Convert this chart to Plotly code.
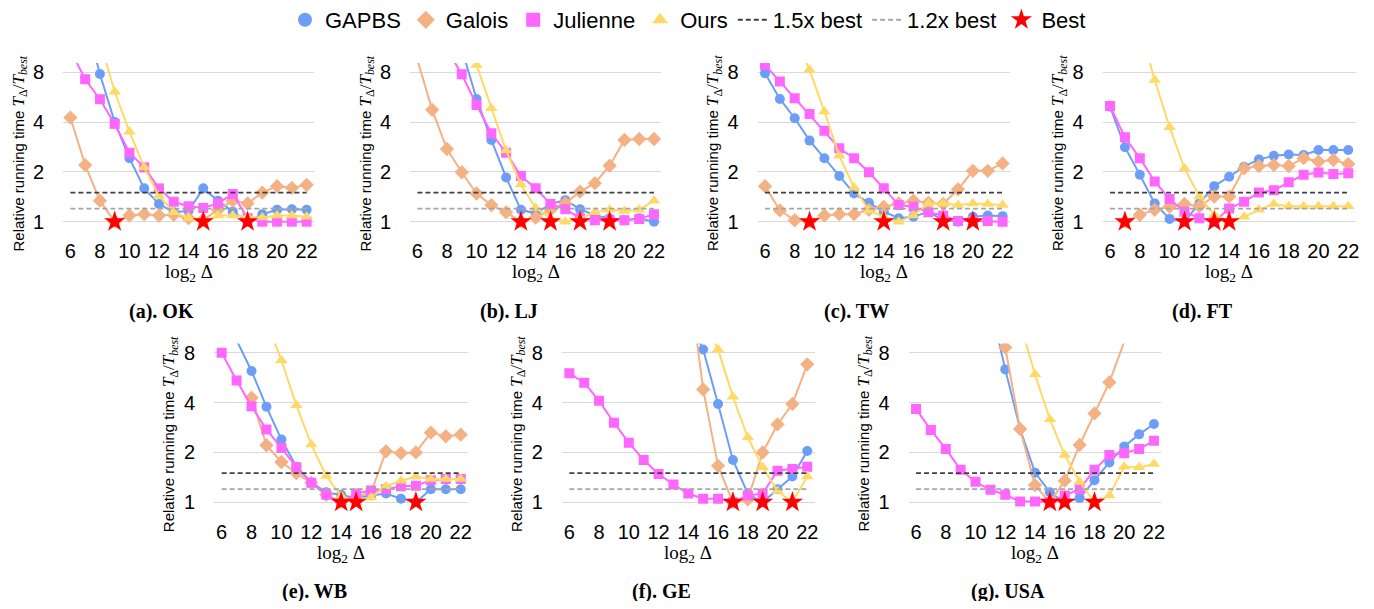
import math
import plotly.graph_objects as go

# ---------------- data ----------------
delta = list(range(6, 23))                      # log2(Delta)
x_tick_vals = [6, 8, 10, 12, 14, 16, 18, 20, 22]
y_tick_vals = [1, 2, 4, 8]
y_tick_text = ["1", "2", "4", "8"]

panel_names = ["(a). OK", "(b). LJ", "(c). TW", "(d). FT", "(e). WB", "(f). GE", "(g). USA"]
series_names = ["GAPBS", "Galois", "Julienne", "Ours"]

# (a) OK
gapbs_ok    = [None, 17, 7.8, 4.0, 2.42, 1.59, 1.28, 1.14, 1.16, 1.59, 1.34, 1.15, 1.0, 1.11, 1.18, 1.19, 1.18]
galois_ok   = [4.26, 2.2, 1.34, 1.0, 1.09, 1.11, 1.09, 1.1, 1.05, 1.03, 1.18, 1.34, 1.29, 1.5, 1.64, 1.6, 1.67]
julienne_ok = [10.9, 7.26, 5.5, 3.9, 2.61, 2.13, 1.59, 1.32, 1.24, 1.21, 1.29, 1.47, 1.05, 1.0, 1.0, 1.0, 1.0]
ours_ok     = [None, None, 12.3, 6.1, 3.5, 2.13, 1.43, 1.14, 1.05, 1.0, 1.09, 1.09, 1.07, 1.06, 1.09, 1.09, 1.07]
best_ok     = [9, 15, 18]

# (b) LJ
gapbs_lj    = [None, None, None, 11.1, 5.52, 3.12, 1.85, 1.18, 1.12, 1.28, 1.35, 1.19, 1.09, 1.05, 1.02, 1.05, 1.0]
galois_lj   = [9.5, 4.74, 2.75, 1.99, 1.48, 1.26, 1.14, 1.0, 1.06, 1.18, 1.29, 1.52, 1.71, 2.18, 3.12, 3.16, 3.16]
julienne_lj = [None, None, 11.0, 7.78, 5.08, 3.42, 2.61, 1.89, 1.59, 1.28, 1.19, 1.05, 1.02, 1.02, 1.02, 1.04, 1.11]
ours_lj     = [None, None, None, None, 8.86, 4.85, 2.69, 1.68, 1.21, 1.05, 1.0, 1.05, 1.14, 1.18, 1.16, 1.18, 1.34]
best_lj     = [13, 15, 17, 19]

# (c) TW
gapbs_tw    = [7.9, 5.52, 4.22, 3.09, 2.42, 1.89, 1.48, 1.30, 1.15, 1.05, 1.07, 1.15, 1.02, 1.0, 1.07, 1.09, 1.08]
galois_tw   = [1.64, 1.17, 1.02, 1.0, 1.09, 1.11, 1.11, 1.18, 1.23, 1.29, 1.34, 1.30, 1.28, 1.57, 2.03, 2.03, 2.25]
julienne_tw = [8.86, 7.03, 5.57, 4.48, 3.55, 2.78, 2.42, 1.99, 1.59, 1.26, 1.23, 1.14, 1.09, 1.01, 1.01, 1.01, 1.0]
ours_tw     = [None, None, 13.3, 8.27, 4.63, 2.5, 1.61, 1.17, 1.07, 1.0, 1.09, 1.29, 1.29, 1.26, 1.29, 1.28, 1.26]
best_tw     = [9, 14, 18, 20]

# (d) FT
gapbs_ft    = [4.96, 2.82, 1.92, 1.29, 1.04, 1.0, 1.29, 1.64, 1.87, 2.15, 2.38, 2.5, 2.55, 2.53, 2.71, 2.71, 2.71]
galois_ft   = [None, 1.0, 1.10, 1.18, 1.23, 1.28, 1.24, 1.42, 1.42, 2.1, 2.17, 2.2, 2.17, 2.42, 2.31, 2.36, 2.23]
julienne_ft = [5.0, 3.24, 2.42, 1.75, 1.37, 1.15, 1.05, 1.0, 1.20, 1.32, 1.5, 1.55, 1.73, 1.92, 1.98, 1.94, 1.96]
ours_ft     = [None, None, 15.0, 7.19, 3.72, 2.1, 1.42, 1.1, 1.0, 1.07, 1.18, 1.28, 1.24, 1.24, 1.24, 1.24, 1.24]
best_ft     = [7, 11, 13, 14]

# (e) WB
gapbs_wb    = [None, 9.5, 6.2, 3.77, 2.39, 1.64, 1.32, 1.15, 1.11, 1.06, 1.10, 1.13, 1.05, 1.0, 1.2, 1.2, 1.2]
galois_wb   = [None, None, 4.28, 2.21, 1.75, 1.5, 1.31, 1.11, 1.0, 1.07, 1.15, 2.03, 1.98, 2.0, 2.63, 2.5, 2.56]
julienne_wb = [8.0, 5.44, 3.8, 2.75, 2.13, 1.63, 1.31, 1.11, 1.0, 1.13, 1.18, 1.2, 1.25, 1.26, 1.36, 1.38, 1.38]
ours_wb     = [None, None, None, 12.3, 7.2, 3.85, 2.23, 1.44, 1.09, 1.0, 1.07, 1.25, 1.35, 1.43, 1.38, 1.38, 1.38]
best_wb     = [14, 15, 19]

# (f) GE
gapbs_ge    = [None, None, None, None, None, None, None, None, 12.7, 8.37, 3.92, 1.8, 1.13, 1.0, 1.2, 1.43, 2.04]
galois_ge   = [None, None, None, None, None, None, None, None, 23.8, 4.8, 1.66, 1.0, 1.04, 2.0, 2.95, 3.92, 6.8]
julienne_ge = [6.0, 5.27, 4.1, 3.02, 2.29, 1.8, 1.48, 1.28, 1.13, 1.05, 1.05, 1.0, 1.1, 1.13, 1.55, 1.59, 1.64]
ours_ge     = [None, None, None, None, None, None, None, None, None, 12.7, 8.37, 4.34, 2.47, 1.63, 1.17, 1.0, 1.43]
best_ge     = [17, 19, 21]

# (g) USA
gapbs_usa    = [None, None, None, None, None, 15.6, 6.34, 2.77, 1.51, 1.15, 1.0, 1.06, 1.36, 1.74, 2.17, 2.57, 2.97]
galois_usa   = [None, None, None, None, None, 20.0, 8.6, 2.77, 1.27, 1.0, 1.35, 2.22, 3.44, 5.3, 9.3, None, None]
julienne_usa = [3.66, 2.73, 2.1, 1.57, 1.33, 1.19, 1.11, 1.01, 1.01, 1.0, 1.1, 1.2, 1.57, 1.93, 1.98, 2.1, 2.35]
ours_usa     = [None, None, None, None, None, None, None, 12.1, 5.92, 3.17, 1.93, 1.33, 1.0, 1.1, 1.64, 1.63, 1.7]
best_usa     = [15, 16, 18]

threshold_high = 1.5   # 1.5x best
threshold_low = 1.2    # 1.2x best

panel_series = [
    [gapbs_ok, galois_ok, julienne_ok, ours_ok],
    [gapbs_lj, galois_lj, julienne_lj, ours_lj],
    [gapbs_tw, galois_tw, julienne_tw, ours_tw],
    [gapbs_ft, galois_ft, julienne_ft, ours_ft],
    [gapbs_wb, galois_wb, julienne_wb, ours_wb],
    [gapbs_ge, galois_ge, julienne_ge, ours_ge],
    [gapbs_usa, galois_usa, julienne_usa, ours_usa],
]
panel_best = [best_ok, best_lj, best_tw, best_ft, best_wb, best_ge, best_usa]

# ---------------- styling / layout ----------------
PAGE_W, PAGE_H = 1374, 609
OFF = 8                                  # default page body margin
W, H = PAGE_W - 2 * OFF, PAGE_H - 2 * OFF


def fx(px):
    return (px - OFF) / W


def fy(py):
    return 1 - (py - OFF) / H


colors = ["#6D9EF7", "#F4B183", "#FF66FF", "#FFD966"]
symbols = ["circle", "diamond", "square", "triangle-up"]
msizes = [10, 11, 10, 11]

# plot areas in page pixels: (left, right, top, bottom)
boxes = [
    (63, 314, 63, 228), (410, 661.4, 63, 228), (757.6, 1010, 63, 228), (1102.6, 1355.7, 63, 228),
    (214.2, 468.2, 343.4, 508.6), (561.9, 814.7, 343.4, 508.6), (908.6, 1161.4, 343.4, 508.6),
]

y_lo, y_hi = 0.916, 9.1
fig = go.Figure()
annotations = []
layout_axes = {}

SANS = "Liberation Sans, Arial, sans-serif"
SERIF = "Liberation Serif, Times New Roman, serif"

ytitle = ("Relative running time "
          "<span style='font-family:Liberation Serif;font-size:17px'><i>T</i><sub>Δ</sub>/"
          "<i>T</i><sub><i>best</i></sub></span>")

for i, (series, best) in enumerate(zip(panel_series, panel_best)):
    n = "" if i == 0 else str(i + 1)
    xa, ya = "x" + n, "y" + n
    for s_idx, vals in enumerate(series):
        fig.add_trace(go.Scatter(
            x=delta, y=vals, xaxis=xa, yaxis=ya, mode="lines+markers",
            line=dict(color=colors[s_idx], width=2),
            marker=dict(symbol=symbols[s_idx], size=msizes[s_idx], color=colors[s_idx]),
            showlegend=False, connectgaps=False, name=series_names[s_idx]))
    for thr, col in [(threshold_high, "#404040"), (threshold_low, "#A6A6A6")]:
        fig.add_trace(go.Scatter(
            x=[delta[0], delta[-1]], y=[thr, thr], xaxis=xa, yaxis=ya, mode="lines",
            line=dict(color=col, width=1.8, dash="5px,3px"), showlegend=False, hoverinfo="skip"))
    fig.add_trace(go.Scatter(
        x=best, y=[1] * len(best), xaxis=xa, yaxis=ya, mode="markers",
        marker=dict(symbol="star", size=16, color="#FF0000"), showlegend=False, cliponaxis=False))

    l, r, t, b = boxes[i]
    layout_axes["xaxis" + n] = dict(
        domain=[fx(l), fx(r)], anchor=ya, range=[5.5, 22.5], tickvals=x_tick_vals,
        showgrid=False, zeroline=False, showline=False,
        ticks="outside", ticklen=5, tickcolor="rgba(0,0,0,0)",
        tickfont=dict(family=SANS, size=20, color="#000"))
    layout_axes["yaxis" + n] = dict(
        domain=[fy(b), fy(t)], anchor=xa, type="log",
        range=[math.log10(y_lo), math.log10(y_hi)], tickvals=y_tick_vals, ticktext=y_tick_text,
        showgrid=True, gridcolor="#D9D9D9", gridwidth=1.3, zeroline=False, showline=False,
        ticks="outside", ticklen=14, tickcolor="rgba(0,0,0,0)",
        tickfont=dict(family=SANS, size=20, color="#000"))

    cx = (l + r) / 2
    # y-axis title
    annotations.append(dict(
        xref="paper", yref="paper", x=fx(l - 44), y=fy((t + b) / 2 + 8),
        xanchor="center", yanchor="middle", textangle=-90, showarrow=False,
        text=ytitle, font=dict(family=SANS, size=15, color="#000")))
    # x-axis title
    annotations.append(dict(
        xref="paper", yref="paper", x=fx(cx), y=fy(b + 45),
        xanchor="center", yanchor="middle", showarrow=False,
        text="log<sub>2</sub> Δ", font=dict(family=SERIF, size=19, color="#000")))
    # caption
    cap_y = 311 if i < 4 else 591
    annotations.append(dict(
        xref="paper", yref="paper", x=fx(cx - 27), y=fy(cap_y),
        xanchor="center", yanchor="middle", showarrow=False,
        text="<b>" + panel_names[i] + "</b>", font=dict(family=SERIF, size=20, color="#000")))

# legend-only entries
for s_idx, name in enumerate(series_names):
    fig.add_trace(go.Scatter(x=[None], y=[None], mode="markers", name=name,
                             marker=dict(symbol=symbols[s_idx], size=14, color=colors[s_idx])))
fig.add_trace(go.Scatter(x=[None], y=[None], mode="lines", name="1.5x best",
                         line=dict(color="#404040", width=2, dash="5px,3px")))
fig.add_trace(go.Scatter(x=[None], y=[None], mode="lines", name="1.2x best",
                         line=dict(color="#A6A6A6", width=2, dash="5px,3px")))
fig.add_trace(go.Scatter(x=[None], y=[None], mode="markers", name="Best",
                         marker=dict(symbol="star", size=16, color="#FF0000")))

fig.update_layout(
    width=W, height=H, margin=dict(l=0, r=0, t=0, b=0, pad=0, autoexpand=False),
    paper_bgcolor="white", plot_bgcolor="white",
    showlegend=True,
    legend=dict(orientation="h", x=fx(688), xanchor="center", y=1 + 9 / H, yanchor="top",
                font=dict(family=SANS, size=22, color="#000"), itemwidth=30,
                tracegroupgap=0, bgcolor="rgba(0,0,0,0)"),
    annotations=annotations,
    **layout_axes,
)

fig.write_html("out.html")
